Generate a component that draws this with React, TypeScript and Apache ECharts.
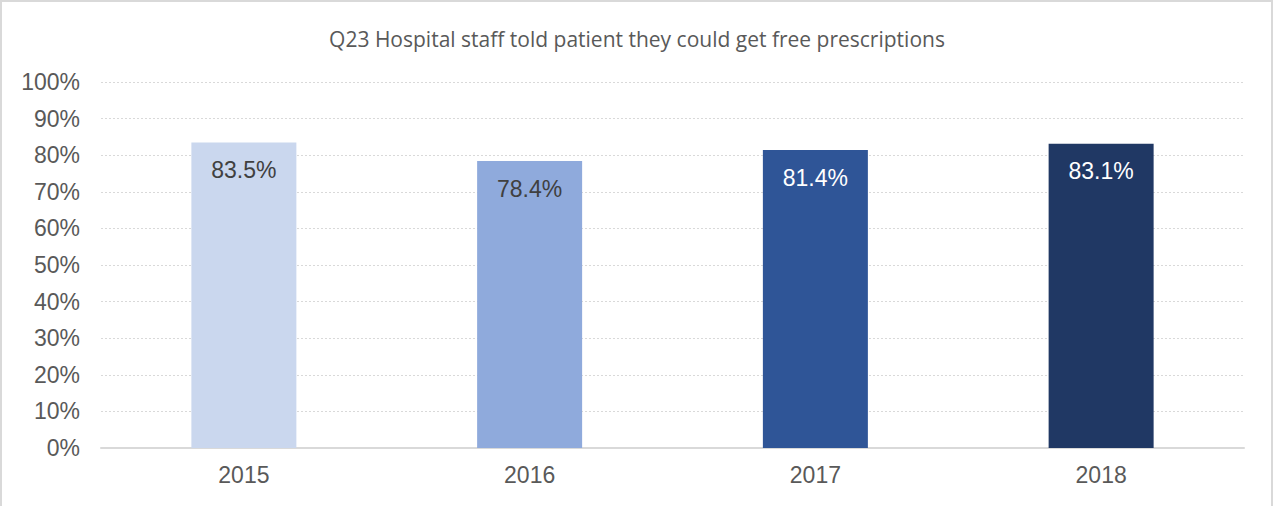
import React, { useEffect, useRef } from "react";
import * as echarts from "echarts";

const categories = ["2015", "2016", "2017", "2018"];
const values = [83.5, 78.4, 81.4, 83.1];
const barColors = ["#cad7ee", "#8faadc", "#2f5597", "#203864"];
const labelColors = ["#404040", "#404040", "#ffffff", "#ffffff"];
const title = "Q23 Hospital staff told patient they could get free prescriptions";

export default function App() {
  const ref = useRef<HTMLDivElement>(null);
  useEffect(() => {
    if (!ref.current) return;
    const chart = echarts.init(ref.current, null, { renderer: "svg" });
    chart.setOption({
      animation: false,
      backgroundColor: "#ffffff",
      title: {
        text: title,
        left: "center",
        top: 23,
        textStyle: {
          fontFamily: "Open Sans",
          fontSize: 21,
          fontWeight: "normal",
          color: "#595959",
        },
      },
      graphic: [
        {
          type: "rect",
          shape: { x: 1, y: 1, width: 1271, height: 520 },
          style: { fill: "none", stroke: "#d9d9d9", lineWidth: 2 },
          silent: true,
        },
      ],
      grid: { left: 101, right: 30, top: 82, bottom: 58 },
      xAxis: {
        type: "category",
        data: categories,
        axisTick: { show: false },
        axisLine: { lineStyle: { color: "#d9d9d9", width: 2 } },
        axisLabel: {
          color: "#595959",
          fontFamily: "Liberation Sans",
          fontSize: 23,
          margin: 15,
        },
      },
      yAxis: {
        type: "value",
        min: 0,
        max: 100,
        interval: 10,
        axisLine: { show: false },
        axisTick: { show: false },
        axisLabel: {
          formatter: "{value}%",
          color: "#595959",
          fontFamily: "Liberation Sans",
          fontSize: 23,
          margin: 21,
        },
        splitLine: { lineStyle: { color: "#d9d9d9", type: [2, 2], width: 1 } },
      },
      series: [
        {
          type: "bar",
          barWidth: 105,
          data: values.map((v, i) => ({
            value: v,
            itemStyle: { color: barColors[i] },
            label: { color: labelColors[i] },
          })),
          label: {
            show: true,
            position: "insideTop",
            distance: 16,
            formatter: (p: any) => p.value.toFixed(1) + "%",
            fontFamily: "Liberation Sans",
            fontSize: 23,
          },
        },
      ],
    });
    return () => chart.dispose();
  }, []);
  return (
    <div
      ref={ref}
      style={{ position: "fixed", left: 0, top: 0, width: 1274, height: 506 }}
    />
  );
}
